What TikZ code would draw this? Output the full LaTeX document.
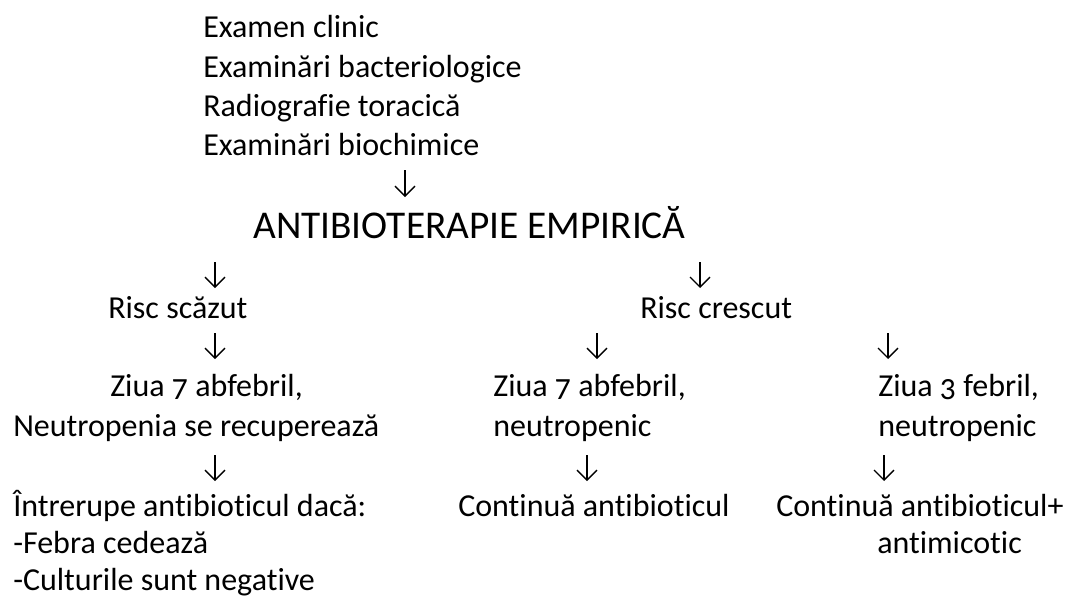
\documentclass[tikz,border=0pt]{standalone}
\usepackage{fontspec}
\setmainfont{Carlito}[Numbers=OldStyle,Ligatures=NoCommon]
\usetikzlibrary{arrows.meta}
\begin{document}
\begin{tikzpicture}[x=0.75pt,y=-0.75pt,
  txt/.style={anchor=base west,inner sep=0pt,font=\fontsize{24pt}{29pt}\selectfont},
  big/.style={anchor=base west,inner sep=0pt,font=\fontsize{29.5pt}{34pt}\selectfont},
  arr/.style={line width=1pt,-{Straight Barb[length=7.5pt,width=15pt,line width=1pt]}}]
\useasboundingbox[fill=white] (0,0) rectangle (1077,597);
% texts
\node[txt] (e1) at (203,37) {Examen clinic};
\node[txt] (e2) at (203,77) {Examinări bacteriologice};
\node[txt] (e3) at (203,116) {Radiografie toracică};
\node[txt] (e4) at (203,155) {Examinări biochimice};
\node[big] (anti) at (253,238) {ANTIBIOTERAPIE EMPIRICĂ};
\node[txt] (r1) at (108,318) {Risc scăzut};
\node[txt] (r2) at (640,318) {Risc crescut};
\node[txt] (z1a) at (110,396) {Ziua 7 abfebril,};
\node[txt] (z1b) at (13,436) {Neutropenia se recuperează};
\node[txt] (z2a) at (493,396) {Ziua 7 abfebril,};
\node[txt] (z2b) at (493,436) {neutropenic};
\node[txt] (z3a) at (878,396) {Ziua 3 febril,};
\node[txt] (z3b) at (878,436) {neutropenic};
\node[txt] (i1) at (13,516) {Întrerupe antibioticul dacă:};
\node[txt] (i2) at (13,553) {-Febra cedează};
\node[txt] (i3) at (13,590) {-Culturile sunt negative};
\node[txt] (c1) at (458,516) {Continuă antibioticul};
\node[txt] (c2) at (776,516) {Continuă antibioticul+};
\node[txt] (c3) at (877,553) {antimicotic};
% arrow end points
\coordinate (a1s) at (405,170); \coordinate (a1e) at (405,197);
\coordinate (a2s) at (215,262); \coordinate (a2e) at (215,288);
\coordinate (a3s) at (700,262); \coordinate (a3e) at (700,288);
\coordinate (a4s) at (215,333); \coordinate (a4e) at (215,359);
\coordinate (a5s) at (597,333); \coordinate (a5e) at (597,359);
\coordinate (a6s) at (888,333); \coordinate (a6e) at (888,359);
\coordinate (a7s) at (215,455); \coordinate (a7e) at (215,481);
\coordinate (a8s) at (587,455); \coordinate (a8e) at (587,481);
\coordinate (a9s) at (884,455); \coordinate (a9e) at (884,481);
\foreach \i in {1,...,9} \draw[arr] (a\i s) -- (a\i e);
\end{tikzpicture}
\end{document}
